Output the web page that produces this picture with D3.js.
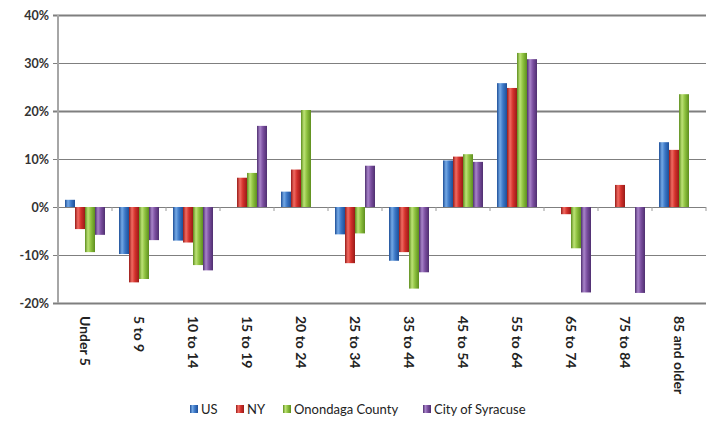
<!DOCTYPE html>
<html>
<head>
<meta charset="utf-8">
<script src="https://cdn.jsdelivr.net/npm/d3@7"></script>
<style>
html,body{margin:0;padding:0;background:#fff;}
svg{display:block;}
text{font-family:Lato,"Open Sans",sans-serif;}
</style>
</head>
<body>
<svg id="chart" width="711" height="430"></svg>
<script>
const categories = ["Under 5","5 to 9","10 to 14","15 to 19","20 to 24","25 to 34","35 to 44","45 to 54","55 to 64","65 to 74","75 to 84","85 and older"];
const seriesNames = ["US","NY","Onondaga County","City of Syracuse"];
const usValues = [1.5,-9.8,-7.0,0,3.2,-5.7,-11.2,9.7,25.8,0,0,13.5];
const nyValues = [-4.6,-15.7,-7.4,6.1,7.8,-11.7,-9.4,10.5,24.8,-1.5,4.6,11.9];
const onondagaValues = [-9.4,-15.0,-12.1,7.1,20.2,-5.5,-17.0,11.0,32.1,-8.6,0,23.5];
const syracuseValues = [-5.8,-6.9,-13.2,16.9,0,8.6,-13.6,9.4,30.8,-17.8,-17.9,0];
const yTicks = [-20,-10,0,10,20,30,40];
const colors = [
  {base:"#3b77c6", light:"#74a9e6", dark:"#1e4f98"},
  {base:"#d3302b", light:"#f06b62", dark:"#981b18"},
  {base:"#8cc03d", light:"#bde276", dark:"#5e8e1f"},
  {base:"#7a4e9f", light:"#a884c9", dark:"#4f2f70"}
];
const allValues = [usValues, nyValues, onondagaValues, syracuseValues];

const svg = d3.select("#chart");
const mLeft = 58, mRight = 706, mTop = 15, mBottom = 303;

const x0 = d3.scaleBand().domain(categories).range([mLeft, mRight]).padding(0);
const x1 = d3.scaleBand().domain(seriesNames).range([0, x0.bandwidth()]).paddingInner(0).paddingOuter(0.7);
const y = d3.scaleLinear().domain([-20, 40]).range([mBottom, mTop]);

// gradients
const defs = svg.append("defs");
colors.forEach((c, i) => {
  const g = defs.append("linearGradient").attr("id", "g" + i).attr("x1", "0").attr("x2", "1").attr("y1", "0").attr("y2", "0");
  g.append("stop").attr("offset", "0%").attr("stop-color", c.dark);
  g.append("stop").attr("offset", "30%").attr("stop-color", c.light);
  g.append("stop").attr("offset", "60%").attr("stop-color", c.base);
  g.append("stop").attr("offset", "100%").attr("stop-color", c.dark);
});

// gridlines
const yAxis = d3.axisLeft(y).tickValues(yTicks).tickSize(0).tickFormat(d => d + "%");
const ga = svg.append("g").attr("transform", `translate(${mLeft - 5},0)`).call(yAxis);
ga.select(".domain").remove();
ga.selectAll(".tick line")
  .attr("x1", 0).attr("x2", mRight - mLeft + 5)
  .attr("stroke", "#7f7f7f")
  .attr("stroke-width", d => (d === 40 || d === 20 || d === -20) ? 2.2 : 1.2);
ga.selectAll(".tick text")
  .attr("x", -4)
  .attr("font-size", 12.5)
  .attr("font-weight", "bold")
  .attr("fill", "#333");

// vertical axis line
svg.append("line").attr("x1", mLeft).attr("x2", mLeft).attr("y1", mTop).attr("y2", mBottom)
  .attr("stroke", "#a6a6a6").attr("stroke-width", 2);

// small ticks along zero line at group boundaries
svg.append("g").selectAll("line").data(categories)
  .join("line")
  .attr("x1", d => x0(d) + x0.step())
  .attr("x2", d => x0(d) + x0.step())
  .attr("y1", y(0)).attr("y2", y(0) + 4)
  .attr("stroke", "#9a9a9a").attr("stroke-width", 1);

// bars
const groups = svg.append("g").selectAll("g").data(categories).join("g")
  .attr("transform", d => `translate(${x0(d)},0)`);
groups.selectAll("rect").data((d, ci) => seriesNames.map((s, si) => ({s, si, v: allValues[si][ci]})).filter(o => o.v !== 0))
  .join("rect")
  .attr("x", d => x1(d.s))
  .attr("width", x1.bandwidth())
  .attr("y", d => y(Math.max(0, d.v)))
  .attr("height", d => Math.abs(y(d.v) - y(0)))
  .attr("fill", d => `url(#g${d.si})`);

// x labels
svg.append("g").selectAll("text").data(categories).join("text")
  .attr("transform", d => `translate(${x0(d) + x0.bandwidth() / 2},316) rotate(90)`)
  .attr("dy", "0.35em")
  .attr("font-size", 14)
  .attr("font-weight", "bold")
  .attr("fill", "#222")
  .text(d => d);

// legend
const legendX = [190, 236, 283, 423];
const legendY = 409;
const lg = svg.append("g").selectAll("g").data(seriesNames).join("g")
  .attr("transform", (d, i) => `translate(${legendX[i]},${legendY})`);
lg.append("rect").attr("x", 0).attr("y", -4).attr("width", 8).attr("height", 8)
  .attr("fill", (d, i) => `url(#g${i})`);
lg.append("text").attr("x", 11).attr("dy", "0.35em").attr("font-size", 13).attr("fill", "#222").text(d => d);
</script>
</body>
</html>
